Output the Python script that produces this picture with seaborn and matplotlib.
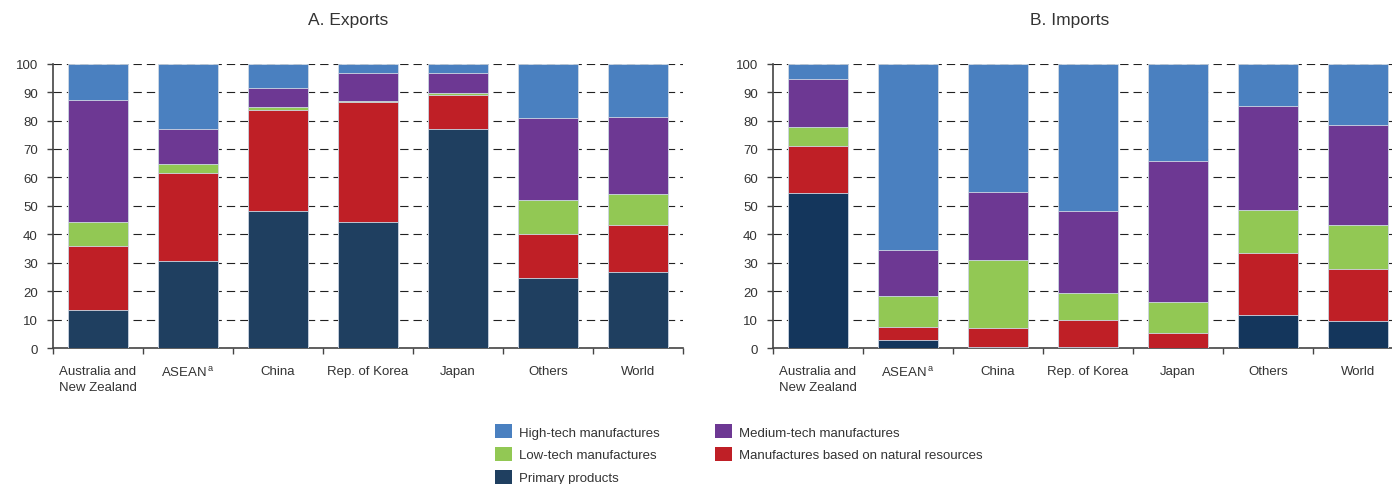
import matplotlib
matplotlib.use("Agg")
import matplotlib.pyplot as plt
import numpy as np
import pandas as pd
import seaborn as sns
from matplotlib.patches import Patch

# Regions (x categories)
regions = ["Australia and\nNew Zealand", "ASEAN$^{\\,\\mathrm{a}}$", "China",
           "Rep. of Korea", "Japan", "Others", "World"]

# Product groups, bottom to top of each stack
series = ["Primary products", "Manufactures based on natural resources",
          "Low-tech manufactures", "Medium-tech manufactures",
          "High-tech manufactures"]

# A. Exports (percentage shares)
exp_primary = [13.5, 30.5, 48.3, 44.2, 77.1, 24.7, 26.8]
exp_natres = [22.4, 31.2, 35.4, 42.2, 12.0, 15.5, 16.5]
exp_low = [8.4, 3.1, 1.2, 0.6, 0.5, 11.7, 10.7]
exp_medium = [43.0, 12.3, 6.7, 9.7, 7.0, 28.9, 27.4]
exp_high = [12.7, 22.9, 8.4, 3.3, 3.4, 19.2, 18.6]

# B. Imports (percentage shares)
imp_primary = [54.6, 2.8, 0.3, 0.2, 0.1, 11.5, 9.5]
imp_natres = [16.4, 4.7, 6.6, 9.8, 5.3, 22.0, 18.4]
imp_low = [6.7, 10.8, 24.2, 9.2, 10.8, 15.0, 15.5]
imp_medium = [16.9, 16.3, 23.9, 29.1, 49.7, 36.7, 35.1]
imp_high = [5.4, 65.4, 45.0, 51.7, 34.1, 14.8, 21.5]

y_ticks = list(range(0, 101, 10))

colors_exp = {
    "Primary products": "#1f3f60",
    "Manufactures based on natural resources": "#bf1f26",
    "Low-tech manufactures": "#92c854",
    "Medium-tech manufactures": "#6d3893",
    "High-tech manufactures": "#4a80c0",
}
colors_imp = dict(colors_exp)
colors_imp["Primary products"] = "#14365c"

sns.set_theme(style="white")
plt.rcParams["font.family"] = ["Liberation Sans", "DejaVu Sans"]
plt.rcParams["mathtext.fontset"] = "custom"
plt.rcParams["mathtext.rm"] = "Liberation Sans"
plt.rcParams["mathtext.it"] = "Liberation Sans:italic"
plt.rcParams["mathtext.bf"] = "Liberation Sans:bold"

TEXT = "#333333"
AXIS = "#444444"


def long_frame(values):
    rows = []
    for s, vals in zip(series, values):
        for r, v in zip(regions, vals):
            rows.append({"region": r, "series": s, "value": v})
    df = pd.DataFrame(rows)
    df["cum"] = df.groupby("region", sort=False)["value"].cumsum()
    return df


def draw_panel(ax, df, colors):
    # stacked bars: draw cumulative totals from the top layer down
    for s in reversed(series):
        sub = df[df["series"] == s]
        sns.barplot(data=sub, x="region", y="cum", order=regions,
                    color=colors[s], saturation=1, width=0.66,
                    errorbar=None, edgecolor="#d0dae6", linewidth=0.6,
                    ax=ax, zorder=3)
    ax.set_xlabel("")
    ax.set_ylabel("")
    ax.set_ylim(0, 100)
    ax.set_xlim(-0.5, len(regions) - 0.5)
    ax.set_yticks(y_ticks)
    ax.set_yticklabels([str(t) for t in y_ticks])
    ax.yaxis.grid(True, linestyle=(0, (7.5, 4.5)), color="#222222",
                  linewidth=0.8, zorder=0)
    ax.xaxis.grid(False)
    ax.set_axisbelow(True)
    for side in ("top", "right"):
        ax.spines[side].set_visible(False)
    for side in ("left", "bottom"):
        ax.spines[side].set_color(AXIS)
        ax.spines[side].set_linewidth(1.2)
    ax.tick_params(axis="y", which="major", left=True, length=4, width=1,
                   color=AXIS, pad=7, labelsize=9.5, labelcolor=TEXT)
    ax.set_xticks(np.arange(-0.5, len(regions), 1.0), minor=True)
    ax.tick_params(axis="x", which="minor", bottom=True, length=4, width=1,
                   color=AXIS)
    ax.tick_params(axis="x", which="major", bottom=True, length=0, pad=12,
                   labelsize=9.5, labelcolor=TEXT)
    for lab in ax.get_xticklabels():
        lab.set_multialignment("center")
        lab.set_linespacing(1.5)


W, H = 1392, 485
fig = plt.figure(figsize=(W / 100, H / 100), dpi=100)

ax_e = fig.add_axes([53 / W, 136 / H, 630 / W, 284.3 / H])
ax_i = fig.add_axes([773 / W, 136 / H, 630 / W, 284.3 / H])

draw_panel(ax_e, long_frame([exp_primary, exp_natres, exp_low, exp_medium, exp_high]), colors_exp)
draw_panel(ax_i, long_frame([imp_primary, imp_natres, imp_low, imp_medium, imp_high]), colors_imp)

fig.text(348 / W, 1 - 21 / H, "A. Exports", ha="center", va="center",
         fontsize=12.5, color=TEXT)
fig.text(1070 / W, 1 - 21 / H, "B. Imports", ha="center", va="center",
         fontsize=12.5, color=TEXT)

legend_order = ["High-tech manufactures", "Low-tech manufactures",
                "Primary products", "Medium-tech manufactures",
                "Manufactures based on natural resources"]
handles = [Patch(facecolor=colors_exp[s], edgecolor="none") for s in legend_order]
fig.legend(handles, legend_order, ncol=2, loc="upper left",
           bbox_to_anchor=(495 / W, 1 - 425 / H), frameon=False,
           fontsize=9.5, handlelength=1.3, handleheight=1.3,
           handletextpad=0.5, labelspacing=0.62, columnspacing=4.2,
           borderpad=0, borderaxespad=0, labelcolor=TEXT)

fig.savefig("out.png", dpi=100)
